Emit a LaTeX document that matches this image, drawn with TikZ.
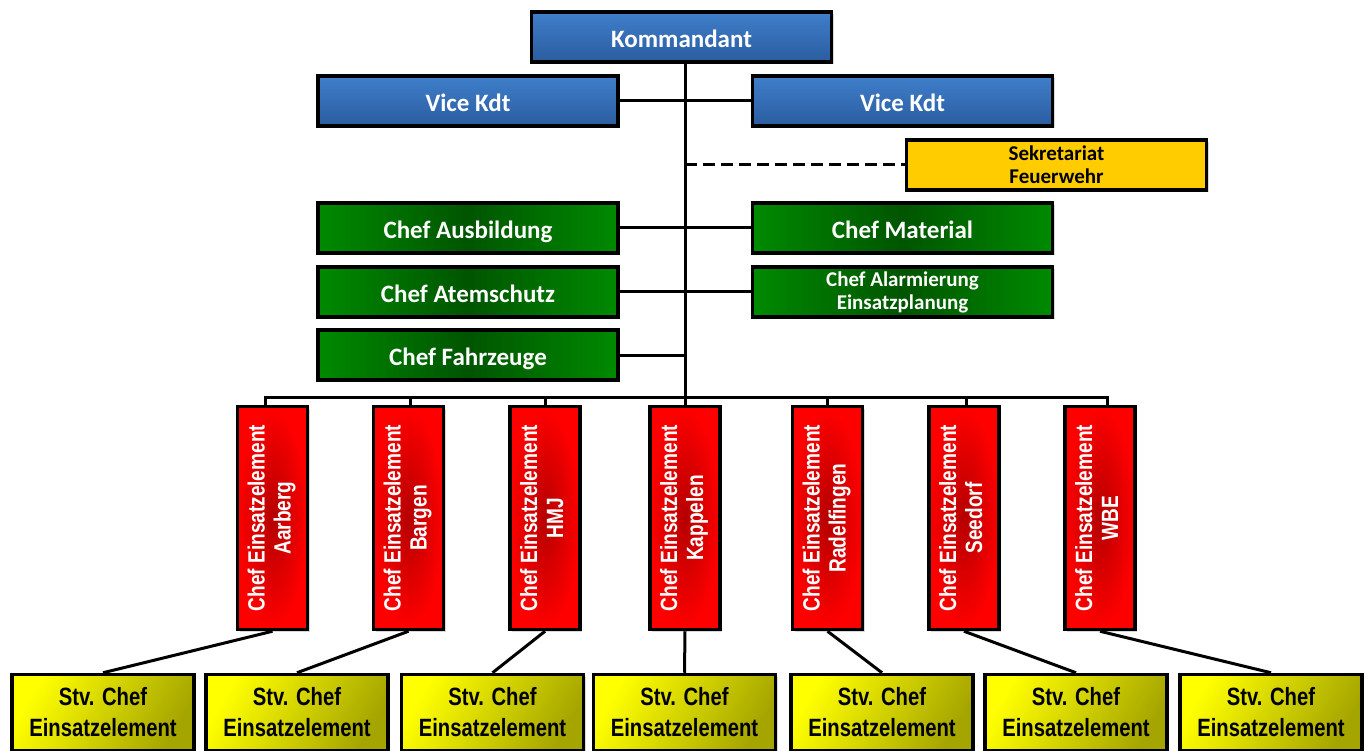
\documentclass[tikz,border=0pt]{standalone}
\usepackage{fontspec}
\setmainfont{Carlito}
\newfontfamily\narrowfont[FakeStretch=0.81]{Liberation Sans}
\usetikzlibrary{shadows}
\definecolor{bluetop}{HTML}{3F7FCB}
\definecolor{bluebot}{HTML}{2B5C9F}
\definecolor{greenedge}{HTML}{008A00}
\definecolor{greenmid}{HTML}{005500}
\definecolor{rededge}{HTML}{FF0000}
\definecolor{redmid}{HTML}{B50000}
\definecolor{yelA}{HTML}{FFFF00}
\definecolor{yelB}{HTML}{A5A500}
\definecolor{sekcol}{HTML}{FFCC00}
\tikzset{
  box/.style={draw=black, line width=3.5pt, inner sep=0pt, align=center,
    drop shadow={opacity=0.3, shadow xshift=2pt, shadow yshift=-2pt}},
  oneline/.style={text height=21pt, text depth=0pt},
  bluebox/.style={box, top color=bluetop, bottom color=bluebot, text=white,
    minimum width=300pt, minimum height=50pt, oneline,
    font=\bfseries\fontsize{25}{28}\selectfont},
  greenbox/.style={box, left color=greenedge, right color=greenedge, middle color=greenmid,
    text=white, minimum width=300pt, minimum height=50pt,
    font=\bfseries\fontsize{25}{28}\selectfont},
  twoline/.style={font=\bfseries\fontsize{21}{23}\selectfont},
  sekbox/.style={box, fill=sekcol, text=black, minimum width=300pt, minimum height=50pt,
    twoline},
  redbox/.style={box, inner color=redmid, outer color=rededge, text=white,
    minimum width=70pt, minimum height=223pt},
  yelbox/.style={box, left color=yelA, right color=yelB, shading angle=60, text=black,
    minimum width=182pt, minimum height=76pt,
    font=\narrowfont\bfseries\fontsize{25}{31}\selectfont},
  conn/.style={draw=black, line width=3pt},
  dashconn/.style={conn, dash pattern=on 12pt off 6pt}
}
\newcommand{\redtext}[1]{\rotatebox{90}{\narrowfont\bfseries\fontsize{23.5}{26}\selectfont\begin{tabular}{@{}c@{}}Chef Einsatzelement\\#1\end{tabular}}}
\begin{document}
\begin{tikzpicture}[x=1pt,y=-1pt]
\useasboundingbox (0,0) rectangle (1371,751);
\clip (0,0) rectangle (1371,751);
\fill[white] (0,0) rectangle (1371,751);
\coordinate (bus) at (685,397);
% top
\node[bluebox] (kdt) at (681.5,37) {Kommandant};
\node[bluebox] (vl) at (468,101) {Vice Kdt};
\node[bluebox] (vr) at (902.5,101) {Vice Kdt};
\node[sekbox] (sek) at (1056.5,165) {Sekretariat\\Feuerwehr};
\node[greenbox, oneline] (ausb) at (468,228) {Chef Ausbildung};
\node[greenbox, oneline] (mat) at (902.5,228) {Chef Material};
\node[greenbox, oneline] (atem) at (468,292) {Chef Atemschutz};
\node[greenbox, twoline] (alarm) at (902.5,292) {Chef Alarmierung\\Einsatzplanung};
\node[greenbox, oneline] (fahr) at (468,355) {Chef Fahrzeuge};
% red
\node[redbox] (r1) at (272.5,518) {\redtext{Aarberg}};
\node[redbox] (r2) at (408.5,518) {\redtext{Bargen}};
\node[redbox] (r3) at (545,518) {\redtext{HMJ}};
\node[redbox] (r4) at (685,518) {\redtext{Kappelen}};
\node[redbox] (r5) at (827.5,518) {\redtext{Radelfingen}};
\node[redbox] (r6) at (964,518) {\redtext{Seedorf}};
\node[redbox] (r7) at (1100,518) {\redtext{WBE}};
% yellow
\node[yelbox] (y1) at (103,712.5) {Stv. Chef\\Einsatzelement};
\node[yelbox] (y2) at (297,712.5) {Stv. Chef\\Einsatzelement};
\node[yelbox] (y3) at (492.5,712.5) {Stv. Chef\\Einsatzelement};
\node[yelbox] (y4) at (684.5,712.5) {Stv. Chef\\Einsatzelement};
\node[yelbox] (y5) at (882,712.5) {Stv. Chef\\Einsatzelement};
\node[yelbox] (y6) at (1076,712.5) {Stv. Chef\\Einsatzelement};
\node[yelbox] (y7) at (1271,712.5) {Stv. Chef\\Einsatzelement};
% connectors
\draw[conn] (kdt.south -| bus) -- (bus);
\draw[conn] (vl.east) -- (vr.west);
\draw[dashconn] (sek.west -| bus) -- (sek.west);
\draw[conn] (ausb.east) -- (mat.west);
\draw[conn] (atem.east) -- (alarm.west);
\draw[conn] (fahr.east) -- (fahr.east -| bus);
\draw[conn] ([xshift=-7pt]r1.north) -- ([xshift=-7pt]r1.north |- bus) -- ([xshift=7pt]r7.north |- bus) -- ([xshift=7pt]r7.north);
\draw[conn] ([xshift=1.5pt]r2.north) -- ([xshift=1.5pt]r2.north |- bus);
\draw[conn] (r3.north) -- (r3.north |- bus);
\draw[conn] (r4.north) -- (r4.north |- bus);
\draw[conn] (r5.north) -- (r5.north |- bus);
\draw[conn] ([xshift=2pt]r6.north) -- ([xshift=2pt]r6.north |- bus);
\draw[conn] (r1.south) -- (y1.north);
\draw[conn] (r2.south) -- (y2.north);
\draw[conn] (r3.south) -- (y3.north);
\draw[conn] (r4.south) -- (y4.north);
\draw[conn] (r5.south) -- (y5.north);
\draw[conn] (r6.south) -- (y6.north);
\draw[conn] (r7.south) -- (y7.north);
\end{tikzpicture}
\end{document}
